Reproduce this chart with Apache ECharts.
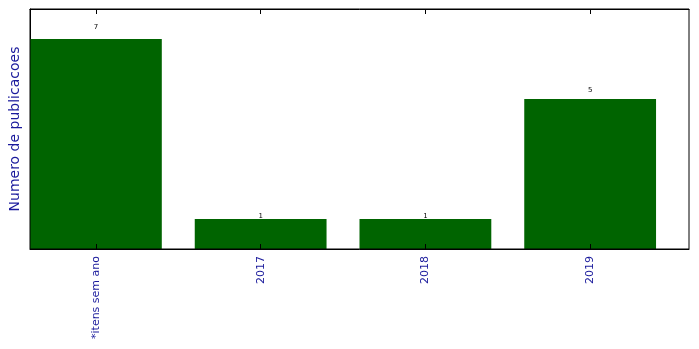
<!DOCTYPE html>
<html>
<head>
<meta charset="utf-8">
<script src="https://cdn.jsdelivr.net/npm/echarts@6/dist/echarts.min.js"></script>
<style>html,body{margin:0;padding:0;background:#fff}#c{width:699px;height:349px}</style>
</head>
<body>
<div id="c"></div>
<script>
const categories = ['*itens sem ano', '2017', '2018', '2019'];
const counts = [7, 1, 1, 5];
const positions = [0, 1, 2, 3];
const yAxisTitle = 'Numero de publicacoes';

const chart = echarts.init(document.getElementById('c'), null, {renderer: 'canvas'});
const gridTop = 9, gridBottom = 100, yMax = 8;
const plotH = 349 - gridTop - gridBottom;
const pxPerUnit = plotH / yMax;

const labelColor = '#1a1a9c';
const option = {
  animation: false,
  grid: {left: 30, right: 10, top: gridTop, bottom: gridBottom, show: true, borderColor: '#000', borderWidth: 1, backgroundColor: 'transparent', z: 5},
  xAxis: [{
    type: 'value', min: -0.4, max: 3.6, position: 'bottom', z: 10,
    splitLine: {show: false},
    axisLine: {show: true, onZero: false, lineStyle: {color: '#000', width: 1}},
    axisTick: {show: true, inside: true, length: 5, customValues: positions, lineStyle: {color: '#000'}},
    axisLabel: {show: true, customValues: positions, rotate: 90, margin: 7, color: labelColor, fontSize: 11, fontFamily: 'DejaVu Sans',
      formatter: v => categories[Math.round(v)] || ''}
  }, {
    type: 'value', min: -0.4, max: 3.6, position: 'top', z: 10,
    splitLine: {show: false},
    axisLine: {show: true, onZero: false, lineStyle: {color: '#000', width: 1}},
    axisTick: {show: true, inside: true, length: 5, customValues: positions, lineStyle: {color: '#000'}},
    axisLabel: {show: false, customValues: positions}
  }],
  yAxis: {
    type: 'value', min: 0, max: yMax,
    splitLine: {show: false},
    axisLine: {show: true, onZero: false, lineStyle: {color: '#000'}},
    axisTick: {show: false},
    axisLabel: {show: false},
    name: yAxisTitle, nameLocation: 'middle', nameGap: 8,
    nameTextStyle: {color: labelColor, fontSize: 14, fontFamily: 'DejaVu Sans'}
  },
  series: [{
    type: 'bar',
    xAxisIndex: 0,
    barWidth: '80%',
    itemStyle: {color: '#006400'},
    data: positions.map((p, i) => ({
      value: [p, counts[i]],
      label: {show: true, position: 'top', distance: counts[i] * 0.05 * pxPerUnit - 2,
        formatter: String(counts[i]), color: '#000', fontSize: 7, fontFamily: 'DejaVu Sans'}
    }))
  }]
};
chart.setOption(option);
</script>
</body>
</html>
